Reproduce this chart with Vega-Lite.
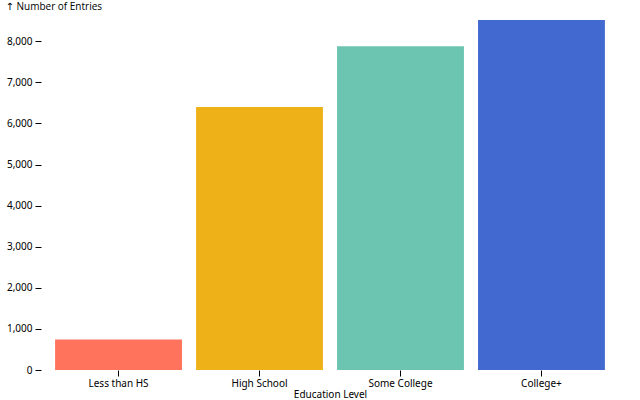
{
  "$schema": "https://vega.github.io/schema/vega-lite/v6.json",
  "width": 578,
  "height": 350,
  "autosize": {"type": "none"},
  "padding": {"left": 41, "top": 20, "right": 21, "bottom": 30},
  "background": "white",
  "config": {"view": {"stroke": null}, "font": "Noto Sans, DejaVu Sans"},
  "data": {
    "values": [
      {"education": "Less than HS", "entries": 742},
      {"education": "High School", "entries": 6400},
      {"education": "Some College", "entries": 7880},
      {"education": "College+", "entries": 8516}
    ]
  },
  "mark": {"type": "bar"},
  "encoding": {
    "x": {
      "field": "education",
      "type": "nominal",
      "sort": ["Less than HS", "High School", "Some College", "College+"],
      "scale": {"paddingInner": 0.1, "paddingOuter": 0.1},
      "axis": {
        "title": "Education Level",
        "labelAngle": 0,
        "domain": false,
        "tickSize": 6,
        "tickColor": "black",
        "labelColor": "black",
        "labelFontSize": 10,
        "labelPadding": 2,
        "titleFontSize": 10,
        "titleFontWeight": "normal",
        "titleColor": "black",
        "titlePadding": 1
      }
    },
    "y": {
      "field": "entries",
      "type": "quantitative",
      "scale": {"domain": [0, 8516], "nice": false},
      "axis": {
        "title": "↑ Number of Entries",
        "grid": false,
        "domain": false,
        "tickSize": 6,
        "tickColor": "black",
        "labelColor": "black",
        "labelFontSize": 10,
        "labelPadding": 3,
        "values": [0, 1000, 2000, 3000, 4000, 5000, 6000, 7000, 8000],
        "format": ",.0f",
        "titleAngle": 0,
        "titleAlign": "left",
        "titleBaseline": "alphabetic",
        "titleX": -36,
        "titleY": -10.5,
        "titleFont": "Open Sans, DejaVu Sans",
        "titleFontSize": 10,
        "titleFontWeight": "normal",
        "titleColor": "black"
      }
    },
    "color": {
      "field": "education",
      "type": "nominal",
      "scale": {
        "domain": ["Less than HS", "High School", "Some College", "College+"],
        "range": ["#ff725c", "#efb118", "#6cc5b0", "#4269d0"]
      },
      "legend": null
    }
  }
}
